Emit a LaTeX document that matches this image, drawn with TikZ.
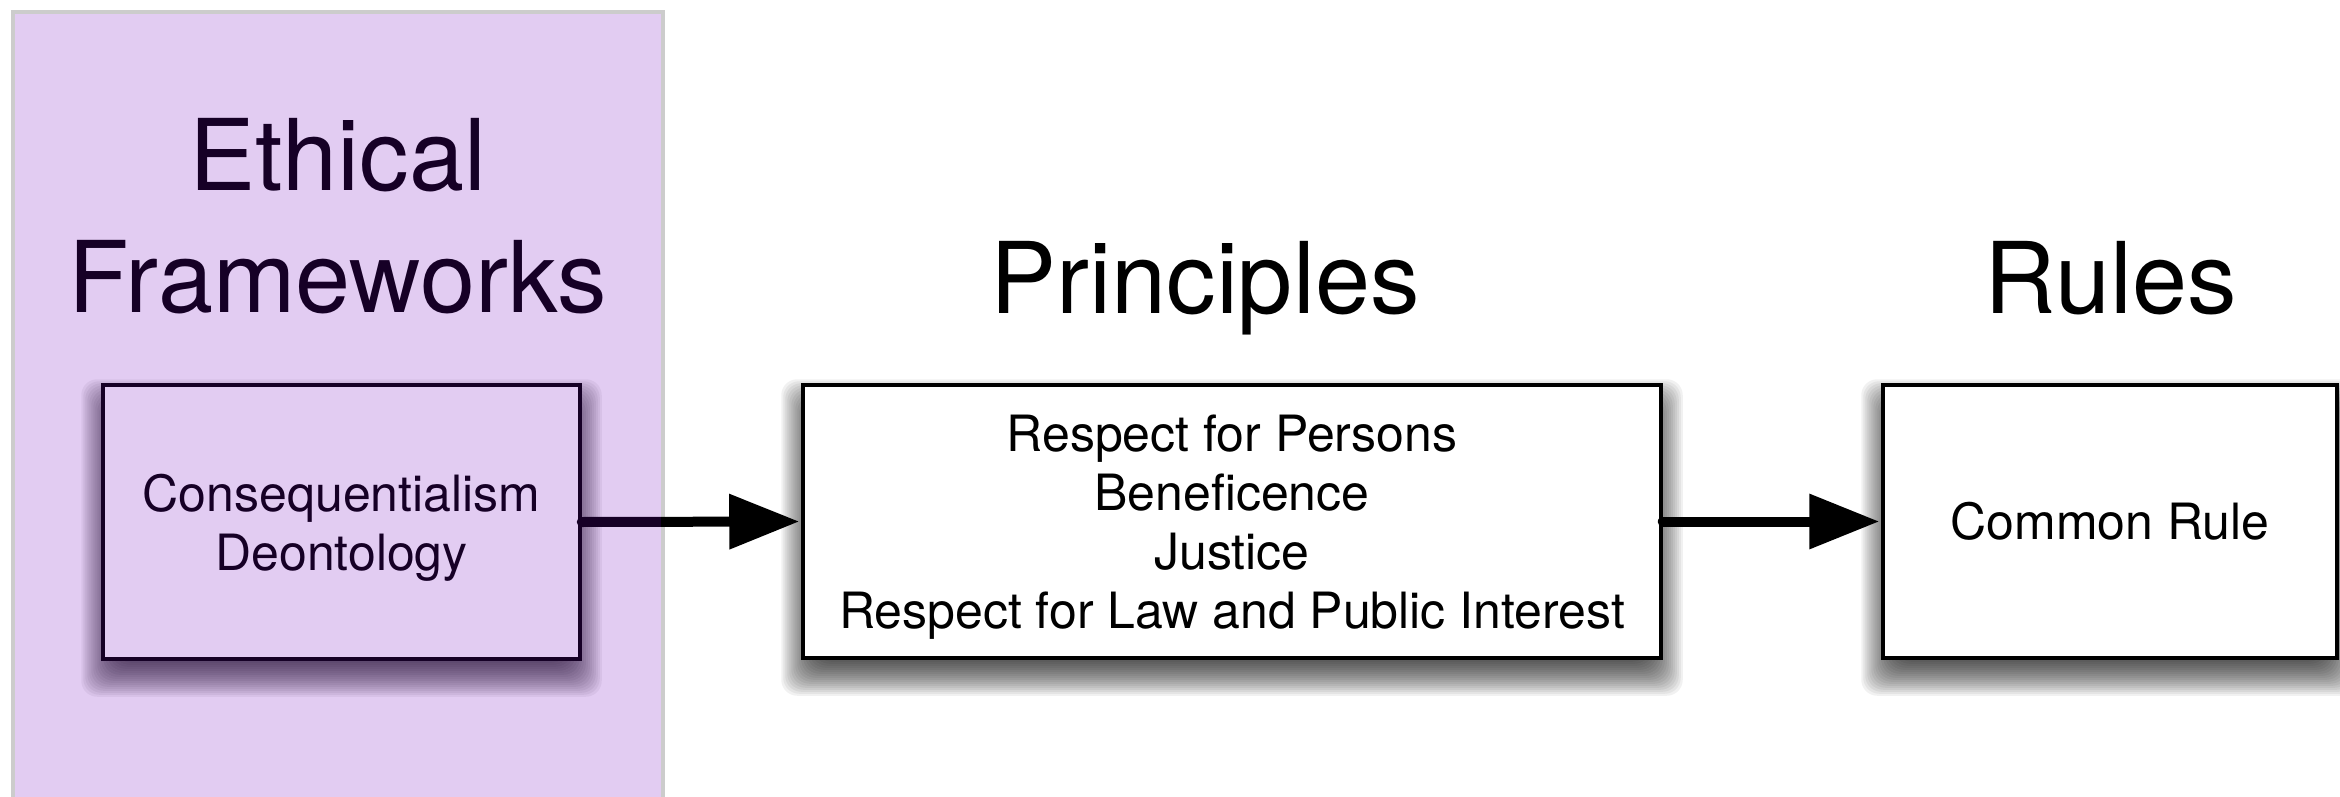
\documentclass[tikz,border=0pt]{standalone}
\usepackage{fontspec}
\setmainfont{TeX Gyre Heros}
\usetikzlibrary{arrows.meta}
\definecolor{veil}{RGB}{110,0,190}
\definecolor{panelrim}{RGB}{204,204,204}
\pgfdeclarelayer{shade}
\pgfsetlayers{shade,main}

\begin{document}
\begin{tikzpicture}[x=0.5pt,y=-0.5pt,
  heading/.style={font=\fontsize{49.5pt}{61pt}\selectfont, inner sep=0pt},
  stagebox/.style={draw=black, line width=1.75pt, fill=white, inner sep=0pt,
    font=\fontsize{25pt}{29.5pt}\selectfont, align=center},
  shadelayer/.style={fill=black, opacity=0.055, rounded corners=8pt},
  flow/.style={line width=5pt, line cap=round,
    -{Triangle[length=35pt,width=26.5pt]}, shorten >=1pt}]
\useasboundingbox (0,0) rectangle (2340,797);

% grey rim of the first panel
\draw[panelrim, line width=2pt] (13,810) -- (13,12) -- (663,12) -- (663,810);

% headings
\node[heading, anchor=north, align=center] (fwhead) at (338,118) {Ethical\\Frameworks};
\node[heading, anchor=base] (prhead) at (1205,313) {Principles};
\node[heading, anchor=base] (rlhead) at (2111,313) {Rules};

% stage boxes
\node[stagebox, minimum width=238.5pt, minimum height=137pt] (fw) at (341.5,522)
  {Consequentialism\\\smash{Deontology}};
\node[stagebox, minimum width=429pt, minimum height=136.5pt] (pr) at (1232,521.5)
  {Respect for Persons\\Beneficence\\Justice\\\smash{Respect for Law and Public Interest}};
\node[stagebox, minimum width=227pt, minimum height=136.5pt] (rl) at (2110,521.5)
  {Common Rule};

% soft drop shadows: stacked translucent layers, offset downwards
\begin{pgfonlayer}{shade}
  \foreach \n in {fw,pr,rl}{
    \foreach \e in {-10,-9,...,10}{
      \fill[shadelayer]
        ([xshift=-\e pt, yshift=-8pt-\e pt]\n.south west) rectangle
        ([xshift=\e pt, yshift=-8pt+\e pt]\n.north east);
    }
  }
\end{pgfonlayer}

% flow between stages
\draw[flow] (fw.east) -- (pr.west);
\draw[flow] (pr.east) -- (rl.west);

% translucent violet over the first stage
\fill[veil, fill opacity=0.2] (15,14) rectangle (661,810);
\end{tikzpicture}
\end{document}
